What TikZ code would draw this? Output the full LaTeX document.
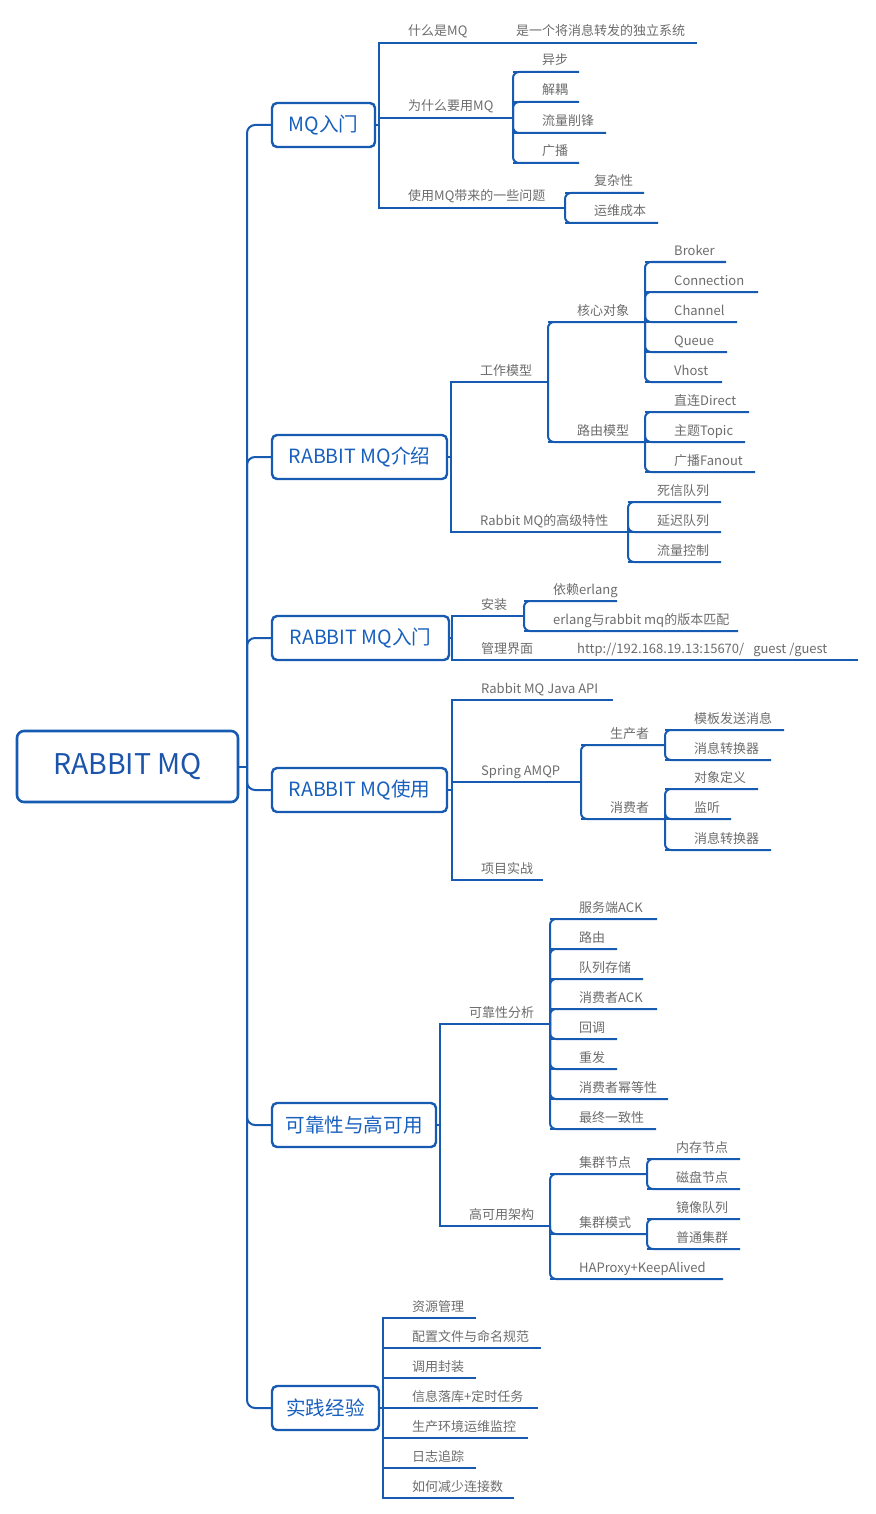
\documentclass[tikz,border=0pt]{standalone}
\usepackage{fontspec}
\setmainfont{Noto Sans CJK SC}
\definecolor{lineblue}{RGB}{22,90,178}
\definecolor{boxtext}{RGB}{24,96,190}
\definecolor{roottext}{RGB}{28,84,172}
\definecolor{leafgray}{RGB}{108,108,108}
\tikzset{
  ln/.style={draw=lineblue, line width=2pt},
  lvone/.style={draw=lineblue, line width=2.4pt, rounded corners=5pt, fill=white,
    text=boxtext, font=\fontsize{19.6}{22}\selectfont, inner sep=0pt, minimum height=44pt},
  leaf/.style={text=leafgray, font=\fontsize{13}{15}\selectfont, inner sep=0pt, anchor=base west},
}
\newcommand\mmleaf[5]{%
  \coordinate (#1s) at (#2,#3);
  \coordinate (#1e) at (#4,#3);
  \node[leaf] (#1) at (#2+29,#3-7) {#5};
  \draw[ln] (#1s) -- (#1e);
}
\newcommand\sconn[2]{\draw[ln] (#1.east) -- (#1.east -| #2s) |- (#2e);}
\newcommand\rconn[2]{\draw[ln, rounded corners=6pt] (#1e) |- (#2e);}
\begin{document}
\begin{tikzpicture}[x=1pt,y=-1pt]
\useasboundingbox (0,0) rectangle (875,1514);
% root
\node[draw=lineblue, line width=2.6pt, rounded corners=7pt, minimum width=221pt, minimum height=71pt,
  inner sep=0pt, text=roottext, font=\fontsize{28.5}{31}\selectfont] (root) at (127.5,766.5) {RABBIT MQ};
\coordinate (J) at (247,766.5);
% level one
\node[lvone, minimum width=103pt] (b1) at (323.5,125) {MQ入门};
\node[lvone, minimum width=175pt] (b2) at (359.5,457) {RABBIT MQ介绍};
\node[lvone, minimum width=177pt] (b3) at (360.5,638) {RABBIT MQ入门};
\node[lvone, minimum width=175pt] (b4) at (359.5,790) {RABBIT MQ使用};
\node[lvone, minimum width=164pt] (b5) at (354,1125) {可靠性与高可用};
\node[lvone, minimum width=107pt] (b6) at (325.5,1408) {实践经验};
\draw[ln] (root.east) -- (J);
\foreach \bb in {b1,b2,b3,b4,b5,b6} {\draw[ln, rounded corners=8pt] (J) |- (\bb.west);}
% MQ入门
\mmleaf{w1}{379}{43}{697}{什么是MQ}
\node[leaf] (w1c) at (516,36) {是一个将消息转发的独立系统};
\mmleaf{w2}{379}{118}{513}{为什么要用MQ}
\mmleaf{w3}{379}{208}{565}{使用MQ带来的一些问题}
\sconn{b1}{w1}\sconn{b1}{w2}\sconn{b1}{w3}
\mmleaf{a1}{513}{72}{579}{异步}
\mmleaf{a2}{513}{102}{579}{解耦}
\mmleaf{a3}{513}{133}{606}{流量削锋}
\mmleaf{a4}{513}{163}{579}{广播}
\rconn{w2}{a1}\rconn{w2}{a2}\rconn{w2}{a3}\rconn{w2}{a4}
\mmleaf{c1}{565}{193}{644}{复杂性}
\mmleaf{c2}{565}{223}{658}{运维成本}
\rconn{w3}{c1}\rconn{w3}{c2}
% RABBIT MQ介绍
\mmleaf{g1}{451}{382}{548}{工作模型}
\mmleaf{g2}{451}{532}{628}{Rabbit MQ的高级特性}
\sconn{b2}{g1}\sconn{b2}{g2}
\mmleaf{h1}{548}{322}{645}{核心对象}
\mmleaf{h2}{548}{442}{645}{路由模型}
\rconn{g1}{h1}\rconn{g1}{h2}
\mmleaf{p1}{645}{262}{726}{Broker}
\mmleaf{p2}{645}{292}{758}{Connection}
\mmleaf{p3}{645}{322}{737}{Channel}
\mmleaf{p4}{645}{352}{727}{Queue}
\mmleaf{p5}{645}{382}{722}{Vhost}
\rconn{h1}{p1}\rconn{h1}{p2}\rconn{h1}{p3}\rconn{h1}{p4}\rconn{h1}{p5}
\mmleaf{q1}{645}{412}{749}{直连Direct}
\mmleaf{q2}{645}{442}{745}{主题Topic}
\mmleaf{q3}{645}{472}{755}{广播Fanout}
\rconn{h2}{q1}\rconn{h2}{q2}\rconn{h2}{q3}
\mmleaf{r1}{628}{502}{721}{死信队列}
\mmleaf{r2}{628}{532}{721}{延迟队列}
\mmleaf{r3}{628}{562}{721}{流量控制}
\rconn{g2}{r1}\rconn{g2}{r2}\rconn{g2}{r3}
% RABBIT MQ入门
\mmleaf{i1}{452}{616}{524}{安装}
\mmleaf{i2}{452}{660}{858}{管理界面}
\node[leaf] (i2c) at (577,653) {http://192.168.19.13:15670/\hspace{9pt}guest /guest};
\sconn{b3}{i1}\sconn{b3}{i2}
\mmleaf{s1}{524}{601}{617}{依赖erlang}
\mmleaf{s2}{524}{631}{738}{erlang与rabbit mq的版本匹配}
\rconn{i1}{s1}\rconn{i1}{s2}
% RABBIT MQ使用
\mmleaf{j1}{452}{700}{613}{Rabbit MQ Java API}
\mmleaf{j2}{452}{782}{581}{Spring AMQP}
\mmleaf{j3}{452}{880}{543}{项目实战}
\sconn{b4}{j1}\sconn{b4}{j2}\sconn{b4}{j3}
\mmleaf{k1}{581}{745}{665}{生产者}
\mmleaf{k2}{581}{819}{665}{消费者}
\rconn{j2}{k1}\rconn{j2}{k2}
\mmleaf{m1}{665}{730}{784}{模板发送消息}
\mmleaf{m2}{665}{760}{771}{消息转换器}
\rconn{k1}{m1}\rconn{k1}{m2}
\mmleaf{n1}{665}{789}{758}{对象定义}
\mmleaf{n2}{665}{819}{731}{监听}
\mmleaf{n3}{665}{850}{771}{消息转换器}
\rconn{k2}{n1}\rconn{k2}{n2}\rconn{k2}{n3}
% 可靠性与高可用
\mmleaf{l1}{440}{1024}{550}{可靠性分析}
\mmleaf{l2}{440}{1226}{550}{高可用架构}
\sconn{b5}{l1}\sconn{b5}{l2}
\mmleaf{t1}{550}{919}{657}{服务端ACK}
\mmleaf{t2}{550}{949}{617}{路由}
\mmleaf{t3}{550}{979}{643}{队列存储}
\mmleaf{t4}{550}{1009}{657}{消费者ACK}
\mmleaf{t5}{550}{1039}{617}{回调}
\mmleaf{t6}{550}{1069}{617}{重发}
\mmleaf{t7}{550}{1099}{668}{消费者幂等性}
\mmleaf{t8}{550}{1129}{656}{最终一致性}
\rconn{l1}{t1}\rconn{l1}{t2}\rconn{l1}{t3}\rconn{l1}{t4}
\rconn{l1}{t5}\rconn{l1}{t6}\rconn{l1}{t7}\rconn{l1}{t8}
\mmleaf{u1}{550}{1174}{647}{集群节点}
\mmleaf{u2}{550}{1234}{647}{集群模式}
\mmleaf{u3}{550}{1279}{723}{HAProxy+KeepAlived}
\rconn{l2}{u1}\rconn{l2}{u2}\rconn{l2}{u3}
\mmleaf{v1}{647}{1159}{740}{内存节点}
\mmleaf{v2}{647}{1189}{740}{磁盘节点}
\rconn{u1}{v1}\rconn{u1}{v2}
\mmleaf{v3}{647}{1219}{740}{镜像队列}
\mmleaf{v4}{647}{1249}{740}{普通集群}
\rconn{u2}{v3}\rconn{u2}{v4}
% 实践经验
\mmleaf{x1}{383}{1318}{476}{资源管理}
\mmleaf{x2}{383}{1348}{541}{配置文件与命名规范}
\mmleaf{x3}{383}{1378}{476}{调用封装}
\mmleaf{x4}{383}{1408}{538}{信息落库+定时任务}
\mmleaf{x5}{383}{1438}{528}{生产环境运维监控}
\mmleaf{x6}{383}{1468}{476}{日志追踪}
\mmleaf{x7}{383}{1498}{514}{如何减少连接数}
\sconn{b6}{x1}\sconn{b6}{x2}\sconn{b6}{x3}\sconn{b6}{x4}
\sconn{b6}{x5}\sconn{b6}{x6}\sconn{b6}{x7}
\end{tikzpicture}
\end{document}
